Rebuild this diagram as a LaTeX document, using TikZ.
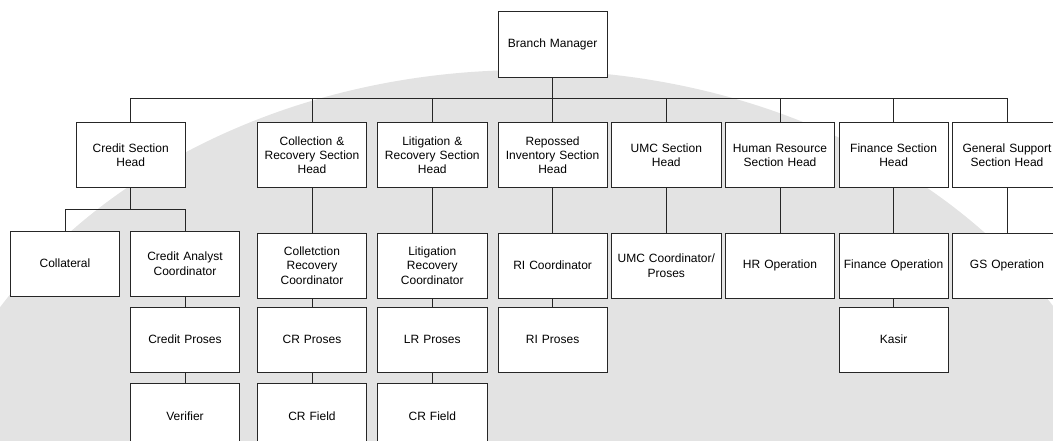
\documentclass[tikz,border=0pt]{standalone}
\usepackage{fontspec}
\setmainfont{Liberation Sans}
\begin{document}
\begin{tikzpicture}[x=1pt,y=-1pt,
  box/.style={draw=black!85, line width=0.9pt, fill=white,
    text width=105.3pt, inner sep=2pt, minimum height=65.3pt,
    align=center, font=\fontsize{12}{14.3}\selectfont},
  wire/.style={draw=black!85, line width=0.9pt}]
\useasboundingbox (0,0) rectangle (1053,441);
\clip (0,0) rectangle (1053,441);

% faint background emblem
\fill[black!11] (527,560) ellipse [x radius=615, y radius=490];

% top level
\node[box] (bm) at (552.6,44.5) {Branch Manager};

% section heads
\node[box] (credit) at (130.7,155.3) {Credit Section\\Head};
\node[box] (coll)   at (312,155.3)   {Collection \&\\Recovery Section\\Head};
\node[box] (lit)    at (432.3,155.3) {Litigation \&\\Recovery Section\\Head};
\node[box] (repo)   at (552.6,155.3) {Repossed\\Inventory Section\\Head};
\node[box] (umc)    at (666.3,155.3) {UMC Section\\Head};
\node[box] (hr)     at (780,155.3)   {Human Resource\\Section Head};
\node[box] (fin)    at (893.6,155.3) {Finance Section\\Head};
\node[box] (gs)     at (1007,155.3)  {General Support\\Section Head};

% credit section
\node[box] (collat) at (65,263.7)  {Collateral};
\node[box] (cac)    at (185,263.7) {Credit Analyst\\Coordinator};
\node[box] (cpro)   at (185,339.7) {Credit Proses};
\node[box] (ver)    at (185,416)   {Verifier};

% collection & recovery
\node[box] (crc)  at (312,265.7) {Colletction\\Recovery\\Coordinator};
\node[box] (crp)  at (312,339.7) {CR Proses};
\node[box] (crf)  at (312,416)   {CR Field};

% litigation & recovery
\node[box] (lrc)  at (432.3,265.7) {Litigation\\Recovery\\Coordinator};
\node[box] (lrp)  at (432.3,339.7) {LR Proses};
\node[box] (lrf)  at (432.3,416)   {CR Field};

% repossessed inventory
\node[box] (ric)  at (552.6,265.7) {RI Coordinator};
\node[box] (rip)  at (552.6,339.7) {RI Proses};

% remaining sections
\node[box] (umcc) at (666.3,265.7) {UMC Coordinator/\\Proses};
\node[box] (hro)  at (780,265.7)   {HR Operation};
\node[box] (fino) at (893.6,265.7) {Finance Operation};
\node[box] (kas)  at (893.6,339.7) {Kasir};
\node[box] (gso)  at (1007,265.7)  {GS Operation};

% bus levels
\coordinate (bus)  at (0,98.3);
\coordinate (cbus) at (0,209.3);

% branch manager to section heads
\foreach \h in {credit,coll,lit,repo,umc,hr,fin,gs}
  \draw[wire] (bm.south) -- (bm.south |- bus) -| (\h.north);

% credit section head to its two units
\foreach \u in {collat,cac}
  \draw[wire] (credit.south) -- (credit.south |- cbus) -| (\u.north);

% vertical chains
\draw[wire] (cac.south) -- (cpro.north);
\draw[wire] (cpro.south) -- (ver.north);
\draw[wire] (coll.south) -- (crc.north);
\draw[wire] (crc.south) -- (crp.north);
\draw[wire] (crp.south) -- (crf.north);
\draw[wire] (lit.south) -- (lrc.north);
\draw[wire] (lrc.south) -- (lrp.north);
\draw[wire] (lrp.south) -- (lrf.north);
\draw[wire] (repo.south) -- (ric.north);
\draw[wire] (ric.south) -- (rip.north);
\draw[wire] (umc.south) -- (umcc.north);
\draw[wire] (hr.south) -- (hro.north);
\draw[wire] (fin.south) -- (fino.north);
\draw[wire] (fino.south) -- (kas.north);
\draw[wire] (gs.south) -- (gso.north);
\end{tikzpicture}
\end{document}
